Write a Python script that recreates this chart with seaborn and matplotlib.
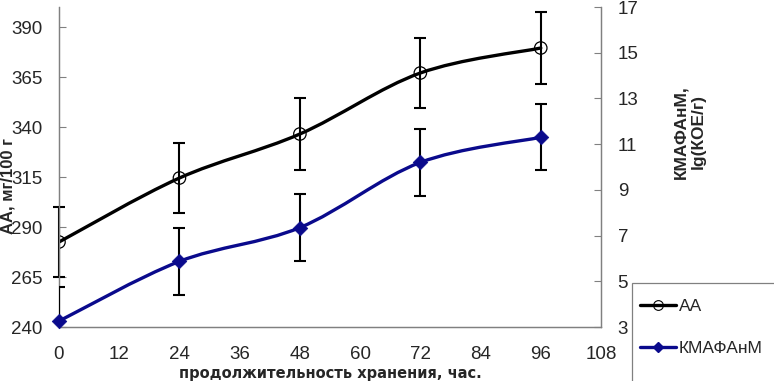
import numpy as np
import pandas as pd
import matplotlib
matplotlib.use('Agg')
import matplotlib.pyplot as plt
import seaborn as sns
from matplotlib.path import Path
from matplotlib.patches import PathPatch, Rectangle
from matplotlib.lines import Line2D

# data
hours = [0, 24, 48, 72, 96]
aa_values = [282.5, 314.5, 336.5, 367, 379.5]
aa_err = [17.5, 17.5, 18, 17.5, 18]
kmafanm_values = [3.26, 5.87, 7.35, 10.2, 11.3]
kmafanm_err = [1.48, 1.46, 1.45, 1.45, 1.45]

x_ticks = [0, 12, 24, 36, 48, 60, 72, 84, 96, 108]
left_ticks = [240, 265, 290, 315, 340, 365, 390]
right_ticks = [3, 5, 7, 9, 11, 13, 15, 17]

black = '#000000'
navy = '#0a0a8c'


def smooth_path(xs, ys):
    # Catmull-Rom curve through the points, drawn as cubic Bezier segments (like Excel smoothing)
    pts = np.column_stack([xs, ys]).astype(float)
    ext = np.vstack([pts[0], pts, pts[-1]])
    verts = [tuple(pts[0])]
    codes = [Path.MOVETO]
    for i in range(1, len(ext) - 2):
        p0, p1, p2, p3 = ext[i - 1], ext[i], ext[i + 1], ext[i + 2]
        c1 = p1 + (p2 - p0) / 6
        c2 = p2 - (p3 - p1) / 6
        verts += [tuple(c1), tuple(c2), tuple(p2)]
        codes += [Path.CURVE4] * 3
    return Path(verts, codes)


sns.set_style('white')
plt.rcParams['font.family'] = ['Liberation Sans', 'DejaVu Sans']

fig = plt.figure(figsize=(7.74, 3.81), dpi=100)
ax = fig.add_axes([59 / 774, 1 - 327 / 381, 542 / 774, 320 / 381])
ax2 = ax.twinx()

df_aa = pd.DataFrame({'hours': hours, 'value': aa_values})
df_km = pd.DataFrame({'hours': hours, 'value': kmafanm_values})

# АА on the left axis
ax.add_patch(PathPatch(smooth_path(hours, aa_values), facecolor='none',
                       edgecolor=black, lw=2.4, zorder=3, capstyle='round'))
ax.errorbar(hours, aa_values, yerr=aa_err, fmt='none', ecolor=black,
            elinewidth=1.5, capsize=4, capthick=1.5, zorder=4, clip_on=False)
sns.scatterplot(data=df_aa, x='hours', y='value', ax=ax, marker='o', s=80,
                facecolor='none', edgecolor=black, linewidth=0.9, zorder=5, legend=False)

# КМАФАнМ on the right axis
ax2.add_patch(PathPatch(smooth_path(hours, kmafanm_values), facecolor='none',
                        edgecolor=navy, lw=2.4, zorder=3, capstyle='round'))
ax2.errorbar(hours, kmafanm_values, yerr=kmafanm_err, fmt='none', ecolor=black,
             elinewidth=1.5, capsize=4, capthick=1.5, zorder=4)
sns.scatterplot(data=df_km, x='hours', y='value', ax=ax2, marker='D', s=55,
                color=navy, edgecolor=navy, linewidth=0.5, zorder=5, legend=False,
                clip_on=False)

ax.set_xlim(0, 108)
ax.set_ylim(240, 400)
ax2.set_ylim(3, 17)
ax.set_xticks(x_ticks)
ax.set_yticks(left_ticks)
ax2.set_yticks(right_ticks)

for a in (ax, ax2):
    for s in a.spines.values():
        s.set_color('#808080')
        s.set_linewidth(0.9)
    a.spines['top'].set_visible(False)
    a.grid(False)
ax.tick_params(axis='x', direction='in', length=5, width=0.8, color='#808080',
               pad=14, labelsize=13.5)
ax.tick_params(axis='y', direction='in', length=5, width=0.8, color='#808080',
               pad=12, labelsize=13.5, left=True)
ax2.tick_params(axis='y', direction='in', length=5, width=0.8, color='#808080',
                pad=12, labelsize=13.5, right=True)

ax.set_xlabel('продолжительность хранения, час.', fontsize=10.5, fontweight='bold',
              family=['DejaVu Sans'], labelpad=2)
ax.set_ylabel('АА, мг/100 г', fontsize=12, fontweight='bold')
ax.yaxis.set_label_coords(-0.081, 0.44)
ax2.set_ylabel('КМАФАнМ,\nlg(КОЕ/г)', fontsize=12.5, fontweight='bold',
               multialignment='center', rotation=90)
ax2.yaxis.set_label_coords(1.133, 0.61)

# legend frame drawn separately so the box can run off the edge like the original
fig.patches.append(Rectangle((632 / 774, -0.05), 0.3, 1 - 283 / 381 + 0.05,
                             transform=fig.transFigure, facecolor='white',
                             edgecolor='#808080', lw=0.9, zorder=0))
handles = [
    Line2D([], [], color=black, lw=2.4, marker='o', ms=7, mfc='none', mec=black, mew=0.8),
    Line2D([], [], color=navy, lw=2.4, marker='D', ms=5, mfc=navy, mec=navy),
]
fig.legend(handles, ['АА', 'КМАФАнМ'], loc='upper left',
           bbox_to_anchor=(640 / 774, 1 - 299 / 381), fontsize=12.5,
           frameon=False, handlelength=2.1, handletextpad=0.15,
           labelspacing=1.55, borderpad=0, borderaxespad=0)

fig.savefig('out.png', dpi=100)
